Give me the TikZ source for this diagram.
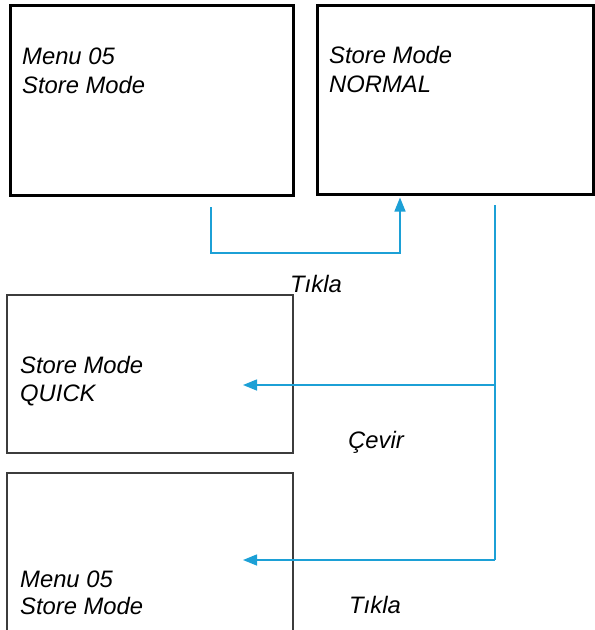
\documentclass[tikz,border=0pt]{standalone}
\usepackage{fontspec}
\setmainfont{Liberation Sans}
\usetikzlibrary{arrows.meta}
\definecolor{flowblue}{RGB}{28,160,214}
\definecolor{framegray}{RGB}{60,60,60}

\tikzset{
  screen/.style={draw=black, line width=3pt, minimum width=#1, inner sep=0pt},
  panel/.style={draw=framegray, line width=1.2pt, minimum width=#1, inner sep=0pt},
  line/.style={anchor=base west, inner sep=0pt, font=\fontsize{23.8}{28}\selectfont\itshape},
  flowline/.style={draw=flowblue, line width=1.5pt},
  flow/.style={flowline, -{Triangle[length=14pt,width=11pt]}},
}

\begin{document}
\begin{tikzpicture}[x=1pt,y=-1pt]
\useasboundingbox (0,0) rectangle (595,630);
\clip (0,0) rectangle (595,630);

% display screens
\node[screen=283pt, minimum height=190pt] (b1) at (151.5,100) {};
\node[screen=276pt, minimum height=189pt] (b2) at (455,99.5) {};
\node[panel=286pt, minimum height=158pt] (b3) at (150,374) {};
\node[panel=286pt, minimum height=200pt] (b4) at (150,573) {};

% screen texts
\node[line] (t1a) at (22,64) {Menu 05};
\node[line] (t1b) at (22,93) {Store Mode};
\node[line] (t2a) at (329,63) {Store Mode};
\node[line] (t2b) at (329,92) {NORMAL};
\node[line] (t3a) at (20,373) {Store Mode};
\node[line] (t3b) at (20,401) {QUICK};
\node[line] (t4a) at (20,587) {Menu 05};
\node[line] (t4b) at (20,614) {Store Mode};

% action labels
\node[line] (l1) at (290,292) {Tıkla};
\node[line] (l2) at (348,448) {Çevir};
\node[line] (l3) at (349,613) {Tıkla};

% connectors
\coordinate (c1) at (211,207);
\coordinate (k1) at (400,253);
\draw[flow, shorten >=2pt] (c1) |- (k1) -- (k1 |- b2.south);

\coordinate (c2) at (495,205);
\coordinate (j3) at (495,385);
\coordinate (j4) at (495,560);
\coordinate (a3) at (243,385);
\coordinate (a4) at (243,560);
\draw[flowline] (c2) -- (j4);
\draw[flow] (j3) -- (a3);
\draw[flow] (j4) -- (a4);
\end{tikzpicture}
\end{document}
